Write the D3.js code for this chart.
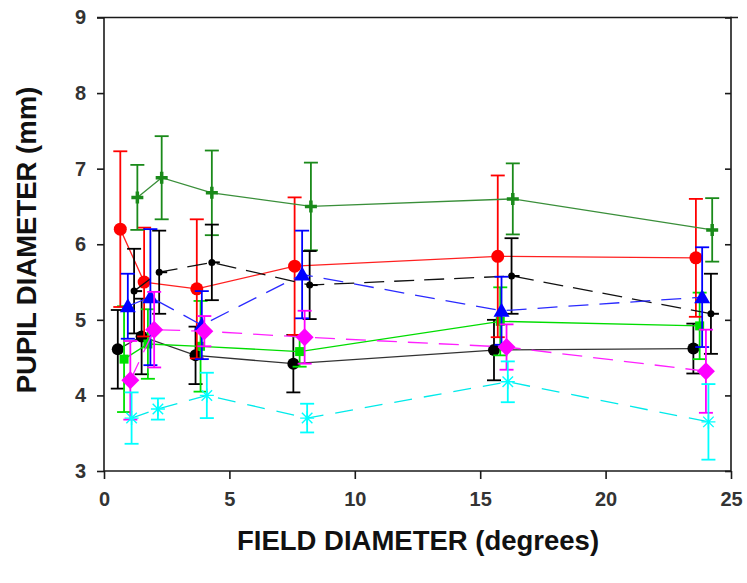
<!DOCTYPE html>
<html>
<head>
<meta charset="utf-8">
<script src="https://cdn.jsdelivr.net/npm/d3@7/dist/d3.min.js"></script>
<style>
html,body{margin:0;padding:0;background:#fff;}
svg{display:block;}
</style>
</head>
<body>
<svg id="chart" width="747" height="583"></svg>
<script>
// ---- data ----
const xTicks = [0, 5, 10, 15, 20, 25];
const yTicks = [3, 4, 5, 6, 7, 8, 9];
const xTitle = "FIELD DIAMETER (degrees)";
const yTitle = "PUPIL DIAMETER (mm)";

const blackSolidX = [0.55, 1.5, 3.65, 7.55, 15.55, 23.5];
const blackSolidY = [4.61, 4.78, 4.53, 4.42, 4.6, 4.62];
const blackSolidErr = [0.52, 0.5, 0.38, 0.38, 0.4, 0.33];

const limeX = [0.8, 1.75, 3.85, 7.8, 15.8, 23.75];
const limeY = [4.48, 4.68, 4.65, 4.58, 4.98, 4.92];
const limeErr = [0.7, 0.46, 0.6, 0.2, 0.45, 0.44];

const redX = [0.65, 1.6, 3.7, 7.6, 15.7, 23.6];
const redY = [6.2, 5.5, 5.41, 5.71, 5.84, 5.82];
const redErr = [1.03, 0.72, 0.92, 0.91, 1.07, 0.78];

const darkGreenX = [1.33, 2.3, 4.3, 8.25, 16.3, 24.25];
const darkGreenY = [6.62, 6.88, 6.68, 6.5, 6.6, 6.19];
const darkGreenErr = [0.43, 0.55, 0.56, 0.58, 0.47, 0.42];

const blackDashX = [1.2, 2.2, 4.3, 8.2, 16.25, 24.2];
const blackDashY = [5.38, 5.63, 5.76, 5.46, 5.58, 5.08];
const blackDashErr = [0.56, 0.55, 0.5, 0.45, 0.5, 0.53];

const blueX = [0.95, 1.85, 3.9, 7.9, 15.85, 23.85];
const blueY = [5.18, 5.3, 4.93, 5.6, 5.12, 5.3];
const blueErr = [0.43, 0.9, 0.45, 0.58, 0.45, 0.66];

const magentaX = [1.05, 2.0, 4.0, 8.0, 16.05, 24.0];
const magentaY = [4.2, 4.87, 4.85, 4.77, 4.64, 4.32];
const magentaErr = [0.52, 0.5, 0.2, 0.35, 0.3, 0.55];

const cyanX = [1.1, 2.15, 4.1, 8.1, 16.1, 24.1];
const cyanY = [3.7, 3.82, 4.0, 3.7, 4.18, 3.65];
const cyanErr = [0.34, 0.14, 0.3, 0.19, 0.27, 0.5];

// ---- series styling ----
const series = [
  {x: blackSolidX, y: blackSolidY, e: blackSolidErr, color: "#000000", line: "#333333", dash: null, marker: "circle", size: 6},
  {x: limeX, y: limeY, e: limeErr, color: "#00e000", line: "#00dd00", dash: null, marker: "square", size: 4.5},
  {x: redX, y: redY, e: redErr, color: "#ff0000", line: "#ff2020", dash: null, marker: "circle", size: 6.5},
  {x: darkGreenX, y: darkGreenY, e: darkGreenErr, color: "#1a8a1a", line: "#3a8f3a", dash: null, marker: "plus", size: 6},
  {x: blackDashX, y: blackDashY, e: blackDashErr, color: "#000000", line: "#111111", dash: "20,10", marker: "dot", size: 3.5},
  {x: blueX, y: blueY, e: blueErr, color: "#0000ff", line: "#2a2aff", dash: "20,11", marker: "triangle", size: 8},
  {x: magentaX, y: magentaY, e: magentaErr, color: "#ff00ff", line: "#ff20ff", dash: "20,11", marker: "diamond", size: 9},
  {x: cyanX, y: cyanY, e: cyanErr, color: "#00ffff", line: "#00eaea", dash: "18,12", marker: "asterisk", size: 7}
];

// ---- layout ----
const svg = d3.select("#chart");
const L = 104, R = 731, T = 17.5, B = 471;
const x = d3.scaleLinear().domain([0, 25]).range([L, R]);
const y = d3.scaleLinear().domain([3, 9]).range([B, T]);

svg.append("rect").attr("width", 747).attr("height", 583).attr("fill", "#fff");

const plot = svg.append("g");

series.forEach(s => {
  const pts = s.x.map((xv, i) => ({x: xv, y: s.y[i], e: s.e[i]}));
  const g = plot.append("g");
  g.append("path")
    .datum(pts)
    .attr("fill", "none")
    .attr("stroke", s.line)
    .attr("stroke-width", 1.3)
    .attr("stroke-dasharray", s.dash)
    .attr("d", d3.line().x(d => x(d.x)).y(d => y(d.y)));
  const eb = g.selectAll("g.eb").data(pts).enter().append("g")
    .attr("stroke", s.color).attr("stroke-width", 1.8).attr("fill", "none");
  eb.append("line")
    .attr("x1", d => x(d.x)).attr("x2", d => x(d.x))
    .attr("y1", d => y(d.y - d.e)).attr("y2", d => y(d.y + d.e));
  [1, -1].forEach(sg => {
    eb.append("line")
      .attr("x1", d => x(d.x) - 7).attr("x2", d => x(d.x) + 7)
      .attr("y1", d => y(d.y + sg * d.e)).attr("y2", d => y(d.y + sg * d.e));
  });
  const m = g.selectAll("g.mk").data(pts).enter().append("g")
    .attr("transform", d => `translate(${x(d.x)},${y(d.y)})`);
  const r = s.size;
  if (s.marker === "circle") {
    m.append("circle").attr("r", r).attr("fill", s.color);
  } else if (s.marker === "dot") {
    m.append("circle").attr("r", r).attr("fill", s.color);
    m.append("line").attr("x1", -1).attr("x2", 8).attr("y1", 0).attr("y2", 0)
      .attr("stroke", s.color).attr("stroke-width", 2);
  } else if (s.marker === "square") {
    m.append("rect").attr("x", -r).attr("y", -r).attr("width", 2 * r).attr("height", 2 * r).attr("fill", s.color);
  } else if (s.marker === "triangle") {
    m.append("path").attr("d", `M0,${-r}L${r},${r * 0.75}L${-r},${r * 0.75}Z`).attr("fill", s.color);
  } else if (s.marker === "diamond") {
    m.append("path").attr("d", `M0,${-r}L${r},0L0,${r}L${-r},0Z`).attr("fill", s.color);
  } else if (s.marker === "plus") {
    m.append("path").attr("d", `M${-r},0H${r}M0,${-r}V${r}`).attr("stroke", s.color).attr("stroke-width", 3.5);
  } else if (s.marker === "asterisk") {
    const d = r * 0.75;
    m.append("path").attr("d", `M0,${-r}V${r}M${-d},${-d}L${d},${d}M${-d},${d}L${d},${-d}M${-r},0H${r}`)
      .attr("stroke", s.color).attr("stroke-width", 1.4);
  }
});

// ---- axes ----
const axisColor = "#1a1a1a";
const fontFam = "'Liberation Sans', Arial, sans-serif";

const gx = svg.append("g").attr("transform", `translate(0,${B})`)
  .call(d3.axisBottom(x).tickValues(xTicks).tickSize(8).tickPadding(13).tickFormat(d3.format("d")));
const gy = svg.append("g").attr("transform", `translate(${L},0)`)
  .call(d3.axisLeft(y).tickValues(yTicks).tickSize(7).tickPadding(11).tickFormat(d3.format("d")));
const gr = svg.append("g").attr("transform", `translate(${R},0)`)
  .call(d3.axisLeft(y).tickValues(yTicks).tickSize(6).tickFormat(""));
const gt = svg.append("g").attr("transform", `translate(0,${T})`)
  .call(d3.axisTop(x).tickValues([]).tickSizeOuter(0));

[gx, gy, gr, gt].forEach(g => {
  g.select(".domain").attr("stroke", axisColor).attr("stroke-width", 1.6);
  g.selectAll(".tick line").attr("stroke", axisColor).attr("stroke-width", 1.6);
  g.selectAll("text").attr("fill", "#333").style("font-family", fontFam)
    .style("font-size", "20px").style("font-weight", "bold");
});
gr.select(".domain").attr("d", `M0,${T - 0.8}V${B + 0.8}`);
gt.select(".domain").attr("d", `M${L - 7},0H${R + 7}`);
gx.select(".domain").attr("d", `M${L},0H${R}`);
gy.select(".domain").attr("d", `M0,${T}V${B}`);

// ---- titles ----
svg.append("text")
  .attr("x", 418).attr("y", 550)
  .attr("text-anchor", "middle")
  .style("font-family", fontFam).style("font-size", "27.5px").style("font-weight", "bold")
  .attr("fill", "#111")
  .text(xTitle);

svg.append("text")
  .attr("transform", "translate(36,240) rotate(-90)")
  .attr("text-anchor", "middle")
  .style("font-family", fontFam).style("font-size", "27.5px").style("font-weight", "bold")
  .attr("fill", "#111")
  .text(yTitle);
</script>
</body>
</html>
